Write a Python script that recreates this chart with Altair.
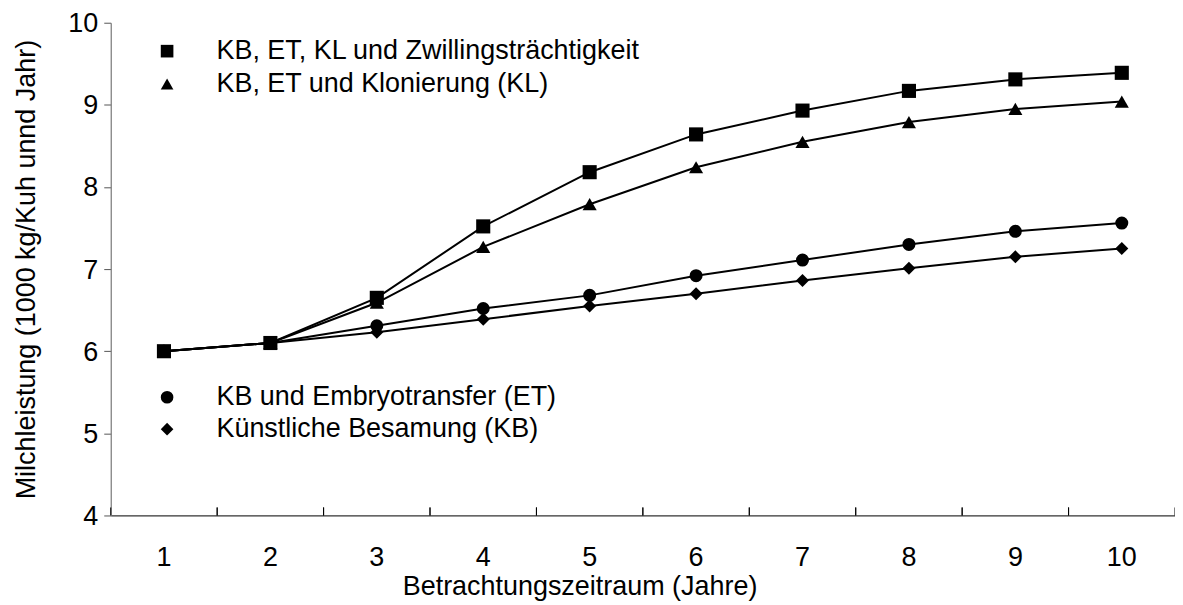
import altair as alt
import pandas as pd

years = [1, 2, 3, 4, 5, 6, 7, 8, 9, 10]

name_zw = "KB, ET, KL und Zwillingsträchtigkeit"
name_kl = "KB, ET und Klonierung (KL)"
name_et = "KB und Embryotransfer (ET)"
name_kb = "Künstliche Besamung (KB)"

vals_zw = [6.0, 6.1, 6.65, 7.52, 8.18, 8.64, 8.93, 9.17, 9.31, 9.39]
vals_kl = [6.0, 6.1, 6.59, 7.27, 7.79, 8.24, 8.55, 8.79, 8.95, 9.04]
vals_et = [6.0, 6.1, 6.31, 6.52, 6.68, 6.92, 7.11, 7.30, 7.46, 7.56]
vals_kb = [6.0, 6.1, 6.23, 6.39, 6.55, 6.70, 6.86, 7.01, 7.15, 7.25]

y_ticks = [4, 5, 6, 7, 8, 9, 10]

top_names = [name_zw, name_kl]
bottom_names = [name_et, name_kb]

rows = []
for name, vals in [(name_zw, vals_zw), (name_kl, vals_kl), (name_et, vals_et), (name_kb, vals_kb)]:
    for yr, v in zip(years, vals):
        rows.append({"Jahr": yr, "Wert": v, "Reihe": name})
df = pd.DataFrame(rows)
df_years = pd.DataFrame({"Jahr": years})

FONT = "Liberation Sans"
FS = 27
H = 494

xscale = alt.Scale(type="band", domain=years, paddingInner=0, paddingOuter=0)
yscale = alt.Scale(domain=[4, 10], nice=False, zero=False)

x_enc = alt.X(
    "Jahr:O",
    scale=xscale,
    bandPosition=0.5,
    axis=alt.Axis(
        title="Betrachtungszeitraum (Jahre)",
        labelAngle=0,
        ticks=False,
        tickSize=0,
        labelPadding=42,
        labelBaseline="middle",
        domainColor="#333333",
        domainWidth=1.2,
        labelFont=FONT,
        labelFontSize=FS,
        labelColor="black",
        labelLimit=0,
        titleFont=FONT,
        titleFontSize=FS,
        titleFontWeight="normal",
        titleColor="black",
        titleX=470,
        titleY=71,
        titleBaseline="middle",
        titleAlign="center",
        titleLimit=0,
    ),
)
y_enc = alt.Y(
    "Wert:Q",
    scale=yscale,
    axis=alt.Axis(
        values=y_ticks,
        title="Milchleistung (1000 kg/Kuh unnd Jahr)",
        grid=False,
        tickSize=7,
        tickColor="#555555",
        domainColor="#777777",
        domainWidth=1.2,
        labelPadding=6,
        labelOffset=1,
        labelFont=FONT,
        labelFontSize=FS,
        labelColor="black",
        titleFont=FONT,
        titleFontSize=FS,
        titleFontWeight="normal",
        titleColor="black",
        titleAngle=-90,
        titleX=-84,
        titleY=H / 2,
        titleBaseline="middle",
        titleAlign="center",
        titleLimit=0,
    ),
)

base = alt.Chart(df)

lines = base.mark_line(color="black", strokeWidth=2).encode(
    x=x_enc, y=y_enc, detail="Reihe:N"
)

legend_common = dict(
    orient="none",
    title=None,
    labelFont=FONT,
    labelFontSize=FS,
    labelColor="black",
    labelLimit=0,
    symbolFillColor="black",
    symbolStrokeColor="black",
    symbolStrokeWidth=0,
    symbolSize=160,
    labelOffset=36,
    padding=0,
)

pts_top = (
    base.transform_filter(alt.FieldOneOfPredicate(field="Reihe", oneOf=top_names))
    .mark_point(filled=True, opacity=1, color="black", size=200)
    .encode(
        x=x_enc,
        y=y_enc,
        shape=alt.Shape(
            "Reihe:N",
            scale=alt.Scale(domain=top_names, range=["square", "triangle-up"]),
            legend=alt.Legend(legendX=43, legendY=15, rowPadding=5, **legend_common),
        ),
    )
)

pts_bottom = (
    base.transform_filter(alt.FieldOneOfPredicate(field="Reihe", oneOf=bottom_names))
    .mark_point(filled=True, opacity=1, color="black", size=170)
    .encode(
        x=x_enc,
        y=y_enc,
        shape=alt.Shape(
            "Reihe:N",
            scale=alt.Scale(domain=bottom_names, range=["circle", "diamond"]),
            legend=alt.Legend(legendX=43, legendY=362, rowPadding=4, **legend_common),
        ),
    )
)

ticks_start = alt.Chart(df_years).mark_rule(color="black", strokeWidth=1).encode(
    x=alt.X("Jahr:O", scale=xscale, bandPosition=0),
    y=alt.value(H),
    y2=alt.value(H - 8),
)
ticks_end = alt.Chart(df_years).mark_rule(color="black", strokeWidth=1).encode(
    x=alt.X("Jahr:O", scale=xscale, bandPosition=1),
    y=alt.value(H),
    y2=alt.value(H - 8),
)

chart = (
    alt.layer(lines, ticks_start, ticks_end, pts_top, pts_bottom)
    .resolve_scale(shape="independent")
    .resolve_legend(shape="independent")
    .properties(
        width=1067,
        height=H,
        autosize=alt.AutoSizeParams(type="none"),
        padding={"left": 103, "top": 14, "right": 0, "bottom": 86},
    )
    .configure_view(stroke=None)
)

chart.save("out.html", embed_options={"renderer": "svg", "actions": False})
